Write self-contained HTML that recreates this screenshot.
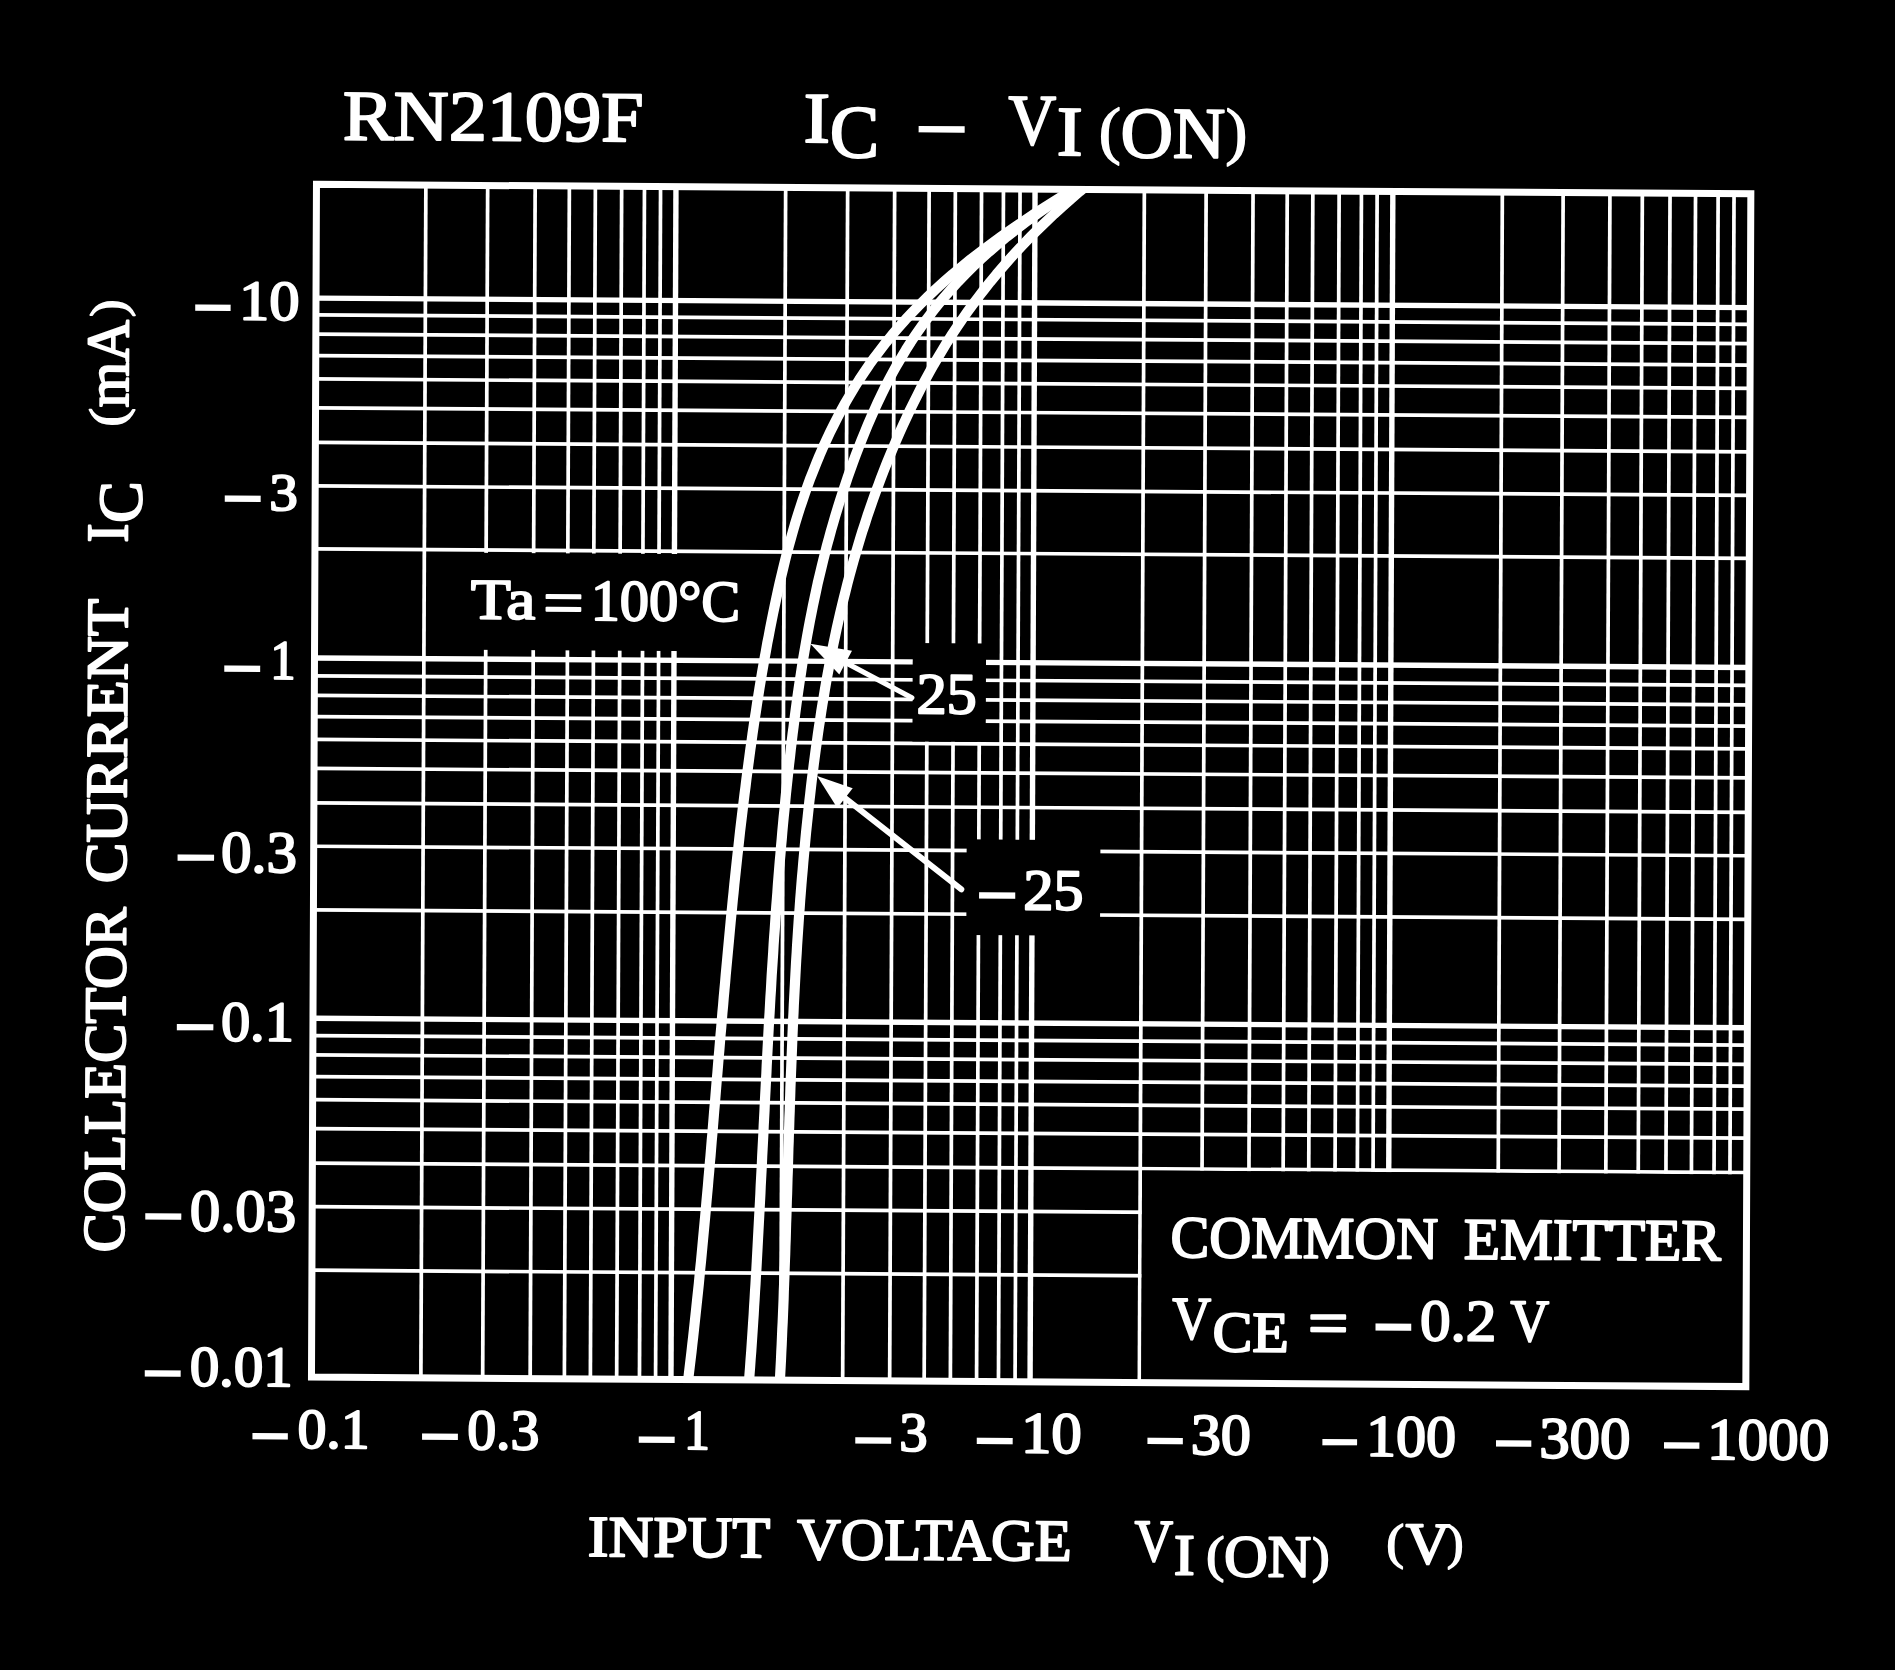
<!DOCTYPE html>
<html><head><meta charset="utf-8"><title>RN2109F IC - VI(ON)</title>
<style>html,body{margin:0;padding:0;background:#000;overflow:hidden}svg{display:block}text{white-space:pre}</style></head>
<body>
<svg width="1895" height="1670" viewBox="0 0 1895 1670">
<rect x="0" y="0" width="1895" height="1670" fill="#000"/>
<g stroke="#fff" fill="none" stroke-linecap="butt">
<line x1="425.87" y1="185.07" x2="420.87" y2="1377.84" stroke-width="3.7"/>
<line x1="487.67" y1="185.48" x2="482.67" y2="1378.25" stroke-width="3.7"/>
<line x1="535.17" y1="185.79" x2="530.17" y2="1378.56" stroke-width="3.7"/>
<line x1="569.37" y1="186.02" x2="564.37" y2="1378.79" stroke-width="3.7"/>
<line x1="595.37" y1="186.19" x2="590.37" y2="1378.96" stroke-width="3.7"/>
<line x1="621.67" y1="186.37" x2="616.67" y2="1379.13" stroke-width="3.7"/>
<line x1="644.47" y1="186.52" x2="639.47" y2="1379.29" stroke-width="3.7"/>
<line x1="660.57" y1="186.62" x2="655.57" y2="1379.39" stroke-width="3.7"/>
<line x1="675.97" y1="186.73" x2="670.97" y2="1379.49" stroke-width="5.4"/>
<line x1="785.66" y1="187.45" x2="780.66" y2="1380.22" stroke-width="3.7"/>
<line x1="847.66" y1="187.86" x2="842.66" y2="1380.63" stroke-width="3.7"/>
<line x1="894.66" y1="188.18" x2="889.66" y2="1380.94" stroke-width="3.7"/>
<line x1="929.16" y1="188.40" x2="924.16" y2="1381.17" stroke-width="3.7"/>
<line x1="955.36" y1="188.58" x2="950.36" y2="1381.34" stroke-width="3.7"/>
<line x1="981.56" y1="188.75" x2="976.56" y2="1381.52" stroke-width="3.7"/>
<line x1="1003.46" y1="188.90" x2="998.46" y2="1381.66" stroke-width="3.7"/>
<line x1="1020.06" y1="189.01" x2="1015.06" y2="1381.77" stroke-width="3.7"/>
<line x1="1035.06" y1="189.11" x2="1030.06" y2="1381.87" stroke-width="5.4"/>
<line x1="1144.35" y1="189.83" x2="1139.35" y2="1382.60" stroke-width="3.7"/>
<line x1="1206.15" y1="190.24" x2="1201.15" y2="1383.01" stroke-width="3.7"/>
<line x1="1253.05" y1="190.55" x2="1248.05" y2="1383.32" stroke-width="3.7"/>
<line x1="1287.25" y1="190.78" x2="1282.25" y2="1383.54" stroke-width="3.7"/>
<line x1="1312.85" y1="190.95" x2="1307.85" y2="1383.71" stroke-width="3.7"/>
<line x1="1339.15" y1="191.12" x2="1334.15" y2="1383.89" stroke-width="3.7"/>
<line x1="1361.45" y1="191.27" x2="1356.45" y2="1384.04" stroke-width="3.7"/>
<line x1="1377.15" y1="191.37" x2="1372.15" y2="1384.14" stroke-width="3.7"/>
<line x1="1392.85" y1="191.48" x2="1387.85" y2="1384.24" stroke-width="5.4"/>
<line x1="1502.34" y1="192.20" x2="1497.34" y2="1384.97" stroke-width="3.7"/>
<line x1="1563.14" y1="192.60" x2="1558.14" y2="1385.37" stroke-width="3.7"/>
<line x1="1609.94" y1="192.91" x2="1604.94" y2="1385.68" stroke-width="3.7"/>
<line x1="1642.34" y1="193.13" x2="1637.34" y2="1385.90" stroke-width="3.7"/>
<line x1="1670.04" y1="193.31" x2="1665.04" y2="1386.08" stroke-width="3.7"/>
<line x1="1695.54" y1="193.48" x2="1690.54" y2="1386.25" stroke-width="3.7"/>
<line x1="1718.14" y1="193.63" x2="1713.14" y2="1386.40" stroke-width="3.7"/>
<line x1="1734.04" y1="193.74" x2="1729.04" y2="1386.50" stroke-width="3.7"/>
<line x1="316.00" y1="298.14" x2="1750.36" y2="307.64" stroke-width="5.4"/>
<line x1="315.93" y1="314.84" x2="1750.29" y2="324.34" stroke-width="3.7"/>
<line x1="315.85" y1="334.14" x2="1750.21" y2="343.64" stroke-width="3.7"/>
<line x1="315.76" y1="355.64" x2="1750.12" y2="365.14" stroke-width="3.7"/>
<line x1="315.66" y1="378.94" x2="1750.02" y2="388.44" stroke-width="3.7"/>
<line x1="315.54" y1="407.84" x2="1749.90" y2="417.34" stroke-width="3.7"/>
<line x1="315.39" y1="442.34" x2="1749.75" y2="451.84" stroke-width="3.7"/>
<line x1="315.21" y1="485.94" x2="1749.57" y2="495.44" stroke-width="3.7"/>
<line x1="314.95" y1="548.84" x2="1749.31" y2="558.34" stroke-width="3.7"/>
<line x1="314.49" y1="657.93" x2="1748.85" y2="667.43" stroke-width="5.4"/>
<line x1="314.42" y1="675.83" x2="1748.78" y2="685.33" stroke-width="3.7"/>
<line x1="314.33" y1="695.43" x2="1748.69" y2="704.93" stroke-width="3.7"/>
<line x1="314.24" y1="716.63" x2="1748.61" y2="726.13" stroke-width="3.7"/>
<line x1="314.15" y1="739.43" x2="1748.51" y2="748.93" stroke-width="3.7"/>
<line x1="314.03" y1="768.43" x2="1748.39" y2="777.93" stroke-width="3.7"/>
<line x1="313.88" y1="802.83" x2="1748.24" y2="812.33" stroke-width="3.7"/>
<line x1="313.70" y1="846.23" x2="1748.06" y2="855.73" stroke-width="3.7"/>
<line x1="313.44" y1="909.83" x2="1747.80" y2="919.33" stroke-width="3.7"/>
<line x1="312.98" y1="1018.32" x2="1747.34" y2="1027.82" stroke-width="5.4"/>
<line x1="312.91" y1="1035.62" x2="1747.27" y2="1045.12" stroke-width="3.7"/>
<line x1="312.83" y1="1054.92" x2="1747.19" y2="1064.42" stroke-width="3.7"/>
<line x1="312.74" y1="1076.62" x2="1747.10" y2="1086.12" stroke-width="3.7"/>
<line x1="312.64" y1="1099.72" x2="1747.00" y2="1109.22" stroke-width="3.7"/>
<line x1="312.52" y1="1128.62" x2="1746.88" y2="1138.12" stroke-width="3.7"/>
<line x1="312.37" y1="1163.12" x2="1746.73" y2="1172.62" stroke-width="3.7"/>
<line x1="312.19" y1="1206.72" x2="1746.55" y2="1216.22" stroke-width="3.7"/>
<line x1="311.93" y1="1270.22" x2="1746.29" y2="1279.72" stroke-width="3.7"/>
</g>
<polygon fill="#000" points="428.5,552.5 752.0,554.6 751.6,651.6 428.1,649.5"/>
<polygon fill="#000" points="912.8,643.1 986.1,643.6 985.7,742.0 912.4,741.5"/>
<polygon fill="#000" points="966.7,839.3 1100.4,840.2 1100.0,935.9 966.3,935.0"/>
<polygon fill="#000" points="1142.1,1170.5 1746.0,1174.5 1745.1,1385.5 1141.2,1381.5"/>
<polygon fill="none" stroke="#fff" stroke-width="7.0" stroke-linejoin="miter" points="316.48,184.35 1750.84,193.85 1745.84,1386.61 311.48,1377.11"/>
<clipPath id="cp"><polygon points="316.48,184.35 1750.84,193.85 1745.84,1386.61 311.48,1377.11"/></clipPath>
<g clip-path="url(#cp)">
<path d="M1082.5,184.0 L1069.9,191.5 L1057.7,199.1 L1045.8,206.6 L1034.1,214.1 L1022.8,221.7 L1011.7,229.2 L1001.0,236.7 L990.6,244.3 L980.6,251.8 L970.8,259.3 L961.5,266.9 L952.4,274.4 L943.8,281.9 L935.4,289.5 L927.5,297.0 L919.8,304.6 L912.5,312.1 L905.5,319.6 L898.8,327.2 L892.3,334.7 L886.2,342.2 L880.3,349.8 L874.6,357.3 L869.2,364.8 L864.1,372.4 L859.1,379.9 L854.4,387.4 L849.9,395.0 L845.5,402.5 L841.4,410.0 L837.4,417.6 L833.6,425.1 L829.9,432.6 L826.3,440.2 L822.9,447.7 L819.6,455.2 L816.5,462.8 L813.5,470.3 L810.5,477.8 L807.7,485.4 L805.1,492.9 L802.5,500.5 L800.0,508.0 L797.6,515.5 L795.3,523.1 L793.1,530.6 L791.0,538.1 L788.9,545.7 L786.9,553.2 L785.0,560.7 L783.2,568.3 L781.4,575.8 L779.6,583.3 L777.9,590.9 L776.3,598.4 L774.7,605.9 L773.1,613.5 L771.6,621.0 L770.1,628.5 L768.7,636.1 L767.2,643.6 L765.9,651.1 L764.5,658.7 L763.2,666.2 L761.9,673.7 L760.6,681.3 L759.4,688.8 L758.2,696.4 L757.0,703.9 L755.9,711.4 L754.7,719.0 L753.6,726.5 L752.5,734.0 L751.5,741.6 L750.4,749.1 L749.4,756.6 L748.4,764.2 L747.4,771.7 L746.4,779.2 L745.5,786.8 L744.5,794.3 L743.6,801.8 L742.7,809.4 L741.8,816.9 L740.9,824.4 L740.0,832.0 L739.2,839.5 L738.4,847.0 L737.5,854.6 L736.7,862.1 L735.9,869.6 L735.1,877.2 L734.3,884.7 L733.6,892.3 L732.8,899.8 L732.1,907.3 L731.3,914.9 L730.6,922.4 L729.9,929.9 L729.2,937.5 L728.5,945.0 L727.8,952.5 L727.1,960.1 L726.4,967.6 L725.7,975.1 L725.1,982.7 L724.4,990.2 L723.7,997.7 L723.1,1005.3 L722.4,1012.8 L721.8,1020.3 L721.2,1027.9 L720.5,1035.4 L719.9,1042.9 L719.3,1050.5 L718.6,1058.0 L718.0,1065.5 L717.4,1073.1 L716.7,1080.6 L716.1,1088.2 L715.5,1095.7 L714.9,1103.2 L714.2,1110.8 L713.6,1118.3 L713.0,1125.8 L712.4,1133.4 L711.7,1140.9 L711.1,1148.4 L710.5,1156.0 L709.8,1163.5 L709.2,1171.0 L708.5,1178.6 L707.9,1186.1 L707.2,1193.6 L706.5,1201.2 L705.9,1208.7 L705.2,1216.2 L704.5,1223.8 L703.8,1231.3 L703.1,1238.8 L702.4,1246.4 L701.7,1253.9 L701.0,1261.4 L700.2,1269.0 L699.5,1276.5 L698.8,1284.1 L698.0,1291.6 L697.2,1299.1 L696.4,1306.7 L695.6,1314.2 L694.8,1321.7 L694.0,1329.3 L693.2,1336.8 L692.3,1344.3 L691.5,1351.9 L690.6,1359.4 L689.7,1366.9 L688.8,1374.5 L687.9,1382.0" fill="none" stroke="#fff" stroke-width="10.2" stroke-linejoin="round" stroke-linecap="butt"/>
<path d="M1083.4,184.0 L1071.0,191.5 L1059.1,199.1 L1047.7,206.6 L1036.8,214.1 L1026.3,221.7 L1016.4,229.2 L1006.8,236.7 L997.7,244.3 L989.0,251.8 L980.7,259.3 L972.7,266.9 L965.2,274.4 L957.9,281.9 L951.0,289.5 L944.4,297.0 L938.1,304.6 L932.1,312.1 L926.4,319.6 L920.9,327.2 L915.7,334.7 L910.7,342.2 L905.9,349.8 L901.4,357.3 L897.0,364.8 L892.8,372.4 L888.8,379.9 L885.0,387.4 L881.3,395.0 L877.7,402.5 L874.3,410.0 L870.9,417.6 L867.7,425.1 L864.6,432.6 L861.5,440.2 L858.6,447.7 L855.7,455.2 L852.9,462.8 L850.2,470.3 L847.5,477.8 L845.0,485.4 L842.5,492.9 L840.0,500.5 L837.7,508.0 L835.4,515.5 L833.2,523.1 L831.0,530.6 L829.0,538.1 L826.9,545.7 L825.0,553.2 L823.1,560.7 L821.3,568.3 L819.5,575.8 L817.7,583.3 L816.1,590.9 L814.5,598.4 L812.9,605.9 L811.4,613.5 L809.9,621.0 L808.5,628.5 L807.1,636.1 L805.8,643.6 L804.5,651.1 L803.2,658.7 L802.0,666.2 L800.9,673.7 L799.7,681.3 L798.6,688.8 L797.5,696.4 L796.5,703.9 L795.5,711.4 L794.5,719.0 L793.6,726.5 L792.6,734.0 L791.7,741.6 L790.8,749.1 L790.0,756.6 L789.1,764.2 L788.3,771.7 L787.5,779.2 L786.7,786.8 L785.9,794.3 L785.2,801.8 L784.5,809.4 L783.7,816.9 L783.0,824.4 L782.3,832.0 L781.7,839.5 L781.0,847.0 L780.4,854.6 L779.7,862.1 L779.1,869.6 L778.5,877.2 L777.9,884.7 L777.4,892.3 L776.8,899.8 L776.2,907.3 L775.7,914.9 L775.2,922.4 L774.7,929.9 L774.1,937.5 L773.6,945.0 L773.2,952.5 L772.7,960.1 L772.2,967.6 L771.7,975.1 L771.3,982.7 L770.9,990.2 L770.4,997.7 L770.0,1005.3 L769.6,1012.8 L769.1,1020.3 L768.7,1027.9 L768.3,1035.4 L767.9,1042.9 L767.5,1050.5 L767.1,1058.0 L766.7,1065.5 L766.4,1073.1 L766.0,1080.6 L765.6,1088.2 L765.2,1095.7 L764.8,1103.2 L764.5,1110.8 L764.1,1118.3 L763.7,1125.8 L763.4,1133.4 L763.0,1140.9 L762.6,1148.4 L762.2,1156.0 L761.9,1163.5 L761.5,1171.0 L761.1,1178.6 L760.7,1186.1 L760.4,1193.6 L760.0,1201.2 L759.6,1208.7 L759.2,1216.2 L758.8,1223.8 L758.4,1231.3 L758.0,1238.8 L757.6,1246.4 L757.2,1253.9 L756.8,1261.4 L756.4,1269.0 L755.9,1276.5 L755.5,1284.1 L755.0,1291.6 L754.6,1299.1 L754.1,1306.7 L753.7,1314.2 L753.2,1321.7 L752.7,1329.3 L752.2,1336.8 L751.7,1344.3 L751.2,1351.9 L750.6,1359.4 L750.1,1366.9 L749.5,1374.5 L749.0,1382.0" fill="none" stroke="#fff" stroke-width="10.2" stroke-linejoin="round" stroke-linecap="butt"/>
<path d="M1088.7,184.0 L1079.6,191.5 L1070.8,199.1 L1062.3,206.6 L1054.0,214.1 L1046.0,221.7 L1038.2,229.2 L1030.7,236.7 L1023.4,244.3 L1016.3,251.8 L1009.5,259.3 L1002.9,266.9 L996.4,274.4 L990.2,281.9 L984.2,289.5 L978.4,297.0 L972.7,304.6 L967.3,312.1 L962.0,319.6 L956.9,327.2 L951.9,334.7 L947.1,342.2 L942.5,349.8 L938.0,357.3 L933.6,364.8 L929.4,372.4 L925.3,379.9 L921.3,387.4 L917.5,395.0 L913.7,402.5 L910.0,410.0 L906.5,417.6 L903.0,425.1 L899.6,432.6 L896.3,440.2 L893.1,447.7 L890.0,455.2 L886.9,462.8 L883.9,470.3 L881.0,477.8 L878.2,485.4 L875.4,492.9 L872.7,500.5 L870.1,508.0 L867.5,515.5 L865.1,523.1 L862.6,530.6 L860.3,538.1 L858.0,545.7 L855.8,553.2 L853.6,560.7 L851.5,568.3 L849.5,575.8 L847.5,583.3 L845.6,590.9 L843.7,598.4 L841.9,605.9 L840.1,613.5 L838.4,621.0 L836.7,628.5 L835.1,636.1 L833.5,643.6 L832.0,651.1 L830.5,658.7 L829.1,666.2 L827.7,673.7 L826.3,681.3 L825.0,688.8 L823.8,696.4 L822.5,703.9 L821.3,711.4 L820.2,719.0 L819.0,726.5 L817.9,734.0 L816.9,741.6 L815.8,749.1 L814.8,756.6 L813.8,764.2 L812.9,771.7 L811.9,779.2 L811.0,786.8 L810.2,794.3 L809.3,801.8 L808.5,809.4 L807.7,816.9 L806.9,824.4 L806.1,832.0 L805.4,839.5 L804.7,847.0 L804.0,854.6 L803.3,862.1 L802.7,869.6 L802.0,877.2 L801.4,884.7 L800.8,892.3 L800.2,899.8 L799.7,907.3 L799.1,914.9 L798.6,922.4 L798.1,929.9 L797.6,937.5 L797.1,945.0 L796.7,952.5 L796.2,960.1 L795.8,967.6 L795.4,975.1 L795.0,982.7 L794.6,990.2 L794.2,997.7 L793.8,1005.3 L793.5,1012.8 L793.1,1020.3 L792.8,1027.9 L792.5,1035.4 L792.2,1042.9 L791.9,1050.5 L791.6,1058.0 L791.3,1065.5 L791.0,1073.1 L790.7,1080.6 L790.4,1088.2 L790.2,1095.7 L789.9,1103.2 L789.7,1110.8 L789.4,1118.3 L789.2,1125.8 L788.9,1133.4 L788.7,1140.9 L788.4,1148.4 L788.2,1156.0 L788.0,1163.5 L787.8,1171.0 L787.5,1178.6 L787.3,1186.1 L787.1,1193.6 L786.8,1201.2 L786.6,1208.7 L786.4,1216.2 L786.1,1223.8 L785.9,1231.3 L785.7,1238.8 L785.4,1246.4 L785.2,1253.9 L784.9,1261.4 L784.6,1269.0 L784.4,1276.5 L784.1,1284.1 L783.8,1291.6 L783.6,1299.1 L783.3,1306.7 L783.0,1314.2 L782.7,1321.7 L782.3,1329.3 L782.0,1336.8 L781.7,1344.3 L781.3,1351.9 L781.0,1359.4 L780.6,1366.9 L780.2,1374.5 L779.8,1382.0" fill="none" stroke="#fff" stroke-width="10.2" stroke-linejoin="round" stroke-linecap="butt"/>
</g>
<line x1="911.8" y1="697.8" x2="842.1" y2="660.7" stroke="#fff" stroke-width="5.2" stroke-linecap="round"/>
<polygon fill="#fff" points="810.3,643.8 852.0,650.7 839.3,674.5"/>
<line x1="961.4" y1="889.4" x2="841.9" y2="795.6" stroke="#fff" stroke-width="5.8" stroke-linecap="round"/>
<polygon fill="#fff" points="817.1,776.1 852.7,788.2 837.3,807.9"/>
<g fill="#fff" stroke="#fff" font-family="'Liberation Serif', serif" stroke-linejoin="round">
<text transform="translate(342.81 139.50) rotate(0.33) scale(1.0732 1.0)" font-size="70.99" stroke-width="2.0">RN2109F</text>
<text transform="translate(803.43 141.90) rotate(0.33) scale(1.1066 1.0)" font-size="71.60" stroke-width="2.0">I</text>
<text transform="translate(829.84 156.90) rotate(0.33) scale(0.9877 1.0)" font-size="74.81" stroke-width="2.0">C</text>
<text transform="translate(913.46 172.23) rotate(0.33) scale(1.6452 2.1667)" font-size="60.0" stroke="none">−</text>
<text transform="translate(1008.14 143.90) rotate(0.33) scale(0.9198 1.0)" font-size="71.76" stroke-width="2.0">V</text>
<text transform="translate(1056.79 155.10) rotate(0.33) scale(1.1012 1.0)" font-size="70.23" stroke-width="2.0">I</text>
<text transform="translate(1098.64 151.61) rotate(0.33) scale(1.0980 1.0579)" font-size="60.0" stroke-width="1.48">(</text>
<text transform="translate(1120.40 157.30) rotate(0.33) scale(1.0025 1.0)" font-size="72.37" stroke-width="2.0">ON</text>
<text transform="translate(1225.48 152.51) rotate(0.33) scale(1.0874 1.0579)" font-size="60.0" stroke-width="1.49">)</text>
<text transform="translate(191.30 348.63) rotate(0.33) scale(1.2652 2.0667)" font-size="60.0" stroke="none">−</text>
<text transform="translate(239.02 319.60) rotate(0.33) scale(1.0736 1.0)" font-size="56.21" stroke-width="2.0">10</text>
<text transform="translate(220.75 539.73) rotate(0.33) scale(1.2832 2.0667)" font-size="60.0" stroke="none">−</text>
<text transform="translate(269.29 510.10) rotate(0.33) scale(1.0820 1.0)" font-size="52.65" stroke-width="2.0">3</text>
<text transform="translate(220.25 709.63) rotate(0.33) scale(1.2832 2.0667)" font-size="60.0" stroke="none">−</text>
<text transform="translate(270.18 678.80) rotate(0.33) scale(0.9104 1.0)" font-size="55.47" stroke-width="2.0">1</text>
<text transform="translate(173.49 898.63) rotate(0.33) scale(1.3047 2.0667)" font-size="60.0" stroke="none">−</text>
<text transform="translate(220.92 871.80) rotate(0.33) scale(1.0355 1.0)" font-size="58.72" stroke-width="2.0">0.3</text>
<text transform="translate(172.69 1068.33) rotate(0.33) scale(1.3047 2.0667)" font-size="60.0" stroke="none">−</text>
<text transform="translate(221.02 1040.40) rotate(0.33) scale(1.0277 1.0)" font-size="56.65" stroke-width="2.0">0.1</text>
<text transform="translate(141.14 1257.53) rotate(0.33) scale(1.2867 2.0667)" font-size="60.0" stroke="none">−</text>
<text transform="translate(189.82 1230.60) rotate(0.33) scale(1.0241 1.0)" font-size="59.32" stroke-width="2.0">0.03</text>
<text transform="translate(140.65 1414.43) rotate(0.33) scale(1.2832 2.0667)" font-size="60.0" stroke="none">−</text>
<text transform="translate(189.69 1385.60) rotate(0.33) scale(1.0340 1.0)" font-size="56.95" stroke-width="2.0">0.01</text>
<text transform="translate(248.40 1477.23) rotate(0.33) scale(1.2652 2.0667)" font-size="60.0" stroke="none">−</text>
<text transform="translate(297.44 1447.70) rotate(0.33) scale(1.0251 1.0)" font-size="56.21" stroke-width="2.0">0.1</text>
<text transform="translate(418.05 1477.73) rotate(0.33) scale(1.2832 2.0667)" font-size="60.0" stroke="none">−</text>
<text transform="translate(467.14 1448.90) rotate(0.33) scale(1.0124 1.0)" font-size="56.95" stroke-width="2.0">0.3</text>
<text transform="translate(634.65 1480.73) rotate(0.33) scale(1.2832 2.0667)" font-size="60.0" stroke="none">−</text>
<text transform="translate(683.88 1448.90) rotate(0.33) scale(0.9186 1.0)" font-size="56.21" stroke-width="2.0">1</text>
<text transform="translate(851.15 1481.53) rotate(0.33) scale(1.2832 2.0667)" font-size="60.0" stroke="none">−</text>
<text transform="translate(899.22 1450.70) rotate(0.33) scale(1.0239 1.0)" font-size="55.17" stroke-width="2.0">3</text>
<text transform="translate(972.75 1482.03) rotate(0.33) scale(1.2832 2.0667)" font-size="60.0" stroke="none">−</text>
<text transform="translate(1020.98 1452.50) rotate(0.33) scale(1.0380 1.0)" font-size="58.58" stroke-width="2.0">10</text>
<text transform="translate(1143.60 1482.03) rotate(0.33) scale(1.2652 2.0667)" font-size="60.0" stroke="none">−</text>
<text transform="translate(1190.64 1454.00) rotate(0.33) scale(1.0340 1.0)" font-size="58.13" stroke-width="2.0">30</text>
<text transform="translate(1318.38 1483.33) rotate(0.33) scale(1.2401 2.0667)" font-size="60.0" stroke="none">−</text>
<text transform="translate(1366.06 1455.80) rotate(0.33) scale(1.0179 1.0)" font-size="58.87" stroke-width="2.0">100</text>
<text transform="translate(1492.02 1484.53) rotate(0.33) scale(1.2616 2.0667)" font-size="60.0" stroke="none">−</text>
<text transform="translate(1539.22 1457.50) rotate(0.33) scale(1.0390 1.0)" font-size="58.43" stroke-width="2.0">300</text>
<text transform="translate(1659.90 1486.53) rotate(0.33) scale(1.2652 2.0667)" font-size="60.0" stroke="none">−</text>
<text transform="translate(1707.06 1459.00) rotate(0.33) scale(1.0321 1.0)" font-size="59.17" stroke-width="2.0">1000</text>
<text transform="translate(587.83 1556.10) rotate(0.33) scale(1.0673 1.0)" font-size="58.02" stroke-width="2.0">INPUT</text>
<text transform="translate(797.10 1558.90) rotate(0.33) scale(1.0263 1.0)" font-size="58.78" stroke-width="2.0">VOLTAGE</text>
<text transform="translate(1134.47 1560.70) rotate(0.33) scale(0.8925 1.0)" font-size="59.54" stroke-width="2.0">V</text>
<text transform="translate(1173.80 1574.60) rotate(0.33) scale(1.0835 1.0)" font-size="58.02" stroke-width="2.0">I</text>
<text transform="translate(1206.11 1571.35) rotate(0.33) scale(0.9216 0.8430)" font-size="60.0" stroke-width="1.81">(</text>
<text transform="translate(1223.98 1576.30) rotate(0.33) scale(1.0144 1.0)" font-size="59.54" stroke-width="2.0">ON</text>
<text transform="translate(1311.88 1572.07) rotate(0.33) scale(0.8803 0.8338)" font-size="60.0" stroke-width="1.87">)</text>
<text transform="translate(1386.30 1558.26) rotate(0.33) scale(0.8889 0.8264)" font-size="60.0" stroke-width="1.87">(</text>
<text transform="translate(1405.39 1563.20) rotate(0.33) scale(1.0451 1.0)" font-size="58.78" stroke-width="2.0">V</text>
<text transform="translate(1446.90 1558.80) rotate(0.33) scale(0.8220 0.8154)" font-size="60.0" stroke-width="1.95">)</text>
<text transform="translate(123.60 1252.55) rotate(-89.65) scale(1.0009 1)" font-size="58.78" stroke-width="2.0">COLLECTOR</text>
<text transform="translate(125.80 883.23) rotate(-89.65) scale(1.0355 1)" font-size="58.78" stroke-width="2.0">CURRENT</text>
<text transform="translate(127.30 542.57) rotate(-89.65) scale(0.9592 1)" font-size="58.78" stroke-width="2.0">I</text>
<text transform="translate(141.20 522.89) rotate(-89.65) scale(1.0085 1)" font-size="61.83" stroke-width="2.0">C</text>
<text transform="translate(123.95 426.72) rotate(-89.65) scale(0.9346 0.8356)" font-size="60.0" stroke-width="1.81">(</text>
<text transform="translate(127.90 407.57) rotate(-89.65) scale(0.9685 1)" font-size="60.31" stroke-width="2.0">mA</text>
<text transform="translate(124.49 316.89) rotate(-89.65) scale(0.8673 0.8246)" font-size="60.0" stroke-width="1.89">)</text>
<text transform="translate(470.86 618.60) rotate(0.33) scale(1.1406 1.0)" font-size="57.25" stroke-width="2.0">Ta</text>
<text transform="translate(543.10 623.83) rotate(0.33) scale(1.2007 1.0467)" font-size="60.0" stroke-width="1.78">=</text>
<text transform="translate(590.71 620.00) rotate(0.33) scale(1.0029 1.0)" font-size="58.02" stroke-width="2.0">100°C</text>
<text transform="translate(916.49 713.20) rotate(0.33) scale(1.0380 1.0)" font-size="58.02" stroke-width="2.0">25</text>
<text transform="translate(974.92 936.53) rotate(0.33) scale(1.2939 2.0667)" font-size="60.0" stroke="none">−</text>
<text transform="translate(1023.19 909.40) rotate(0.33) scale(1.0380 1.0)" font-size="58.02" stroke-width="2.0">25</text>
<text transform="translate(1170.58 1257.00) rotate(0.33) scale(0.9817 1.0)" font-size="59.08" stroke-width="2.0">COMMON</text>
<text transform="translate(1463.72 1258.80) rotate(0.33) scale(1.0127 1.0)" font-size="58.63" stroke-width="2.0">EMITTER</text>
<text transform="translate(1172.36 1338.50) rotate(0.33) scale(0.8883 1.0)" font-size="60.31" stroke-width="2.0">V</text>
<text transform="translate(1212.42 1351.20) rotate(0.33) scale(1.0414 1.0)" font-size="57.25" stroke-width="2.0">CE</text>
<text transform="translate(1308.09 1343.98) rotate(0.33) scale(1.1864 1.0467)" font-size="60.0" stroke-width="2.24">=</text>
<text transform="translate(1371.47 1373.55) rotate(0.33) scale(1.2760 2.3333)" font-size="60.0" stroke="none">−</text>
<text transform="translate(1419.91 1340.20) rotate(0.33) scale(1.0377 1.0)" font-size="58.78" stroke-width="2.0">0.2</text>
<text transform="translate(1510.16 1340.80) rotate(0.33) scale(0.8997 1.0)" font-size="59.54" stroke-width="2.0">V</text>
</g>
</svg>
</body></html>
